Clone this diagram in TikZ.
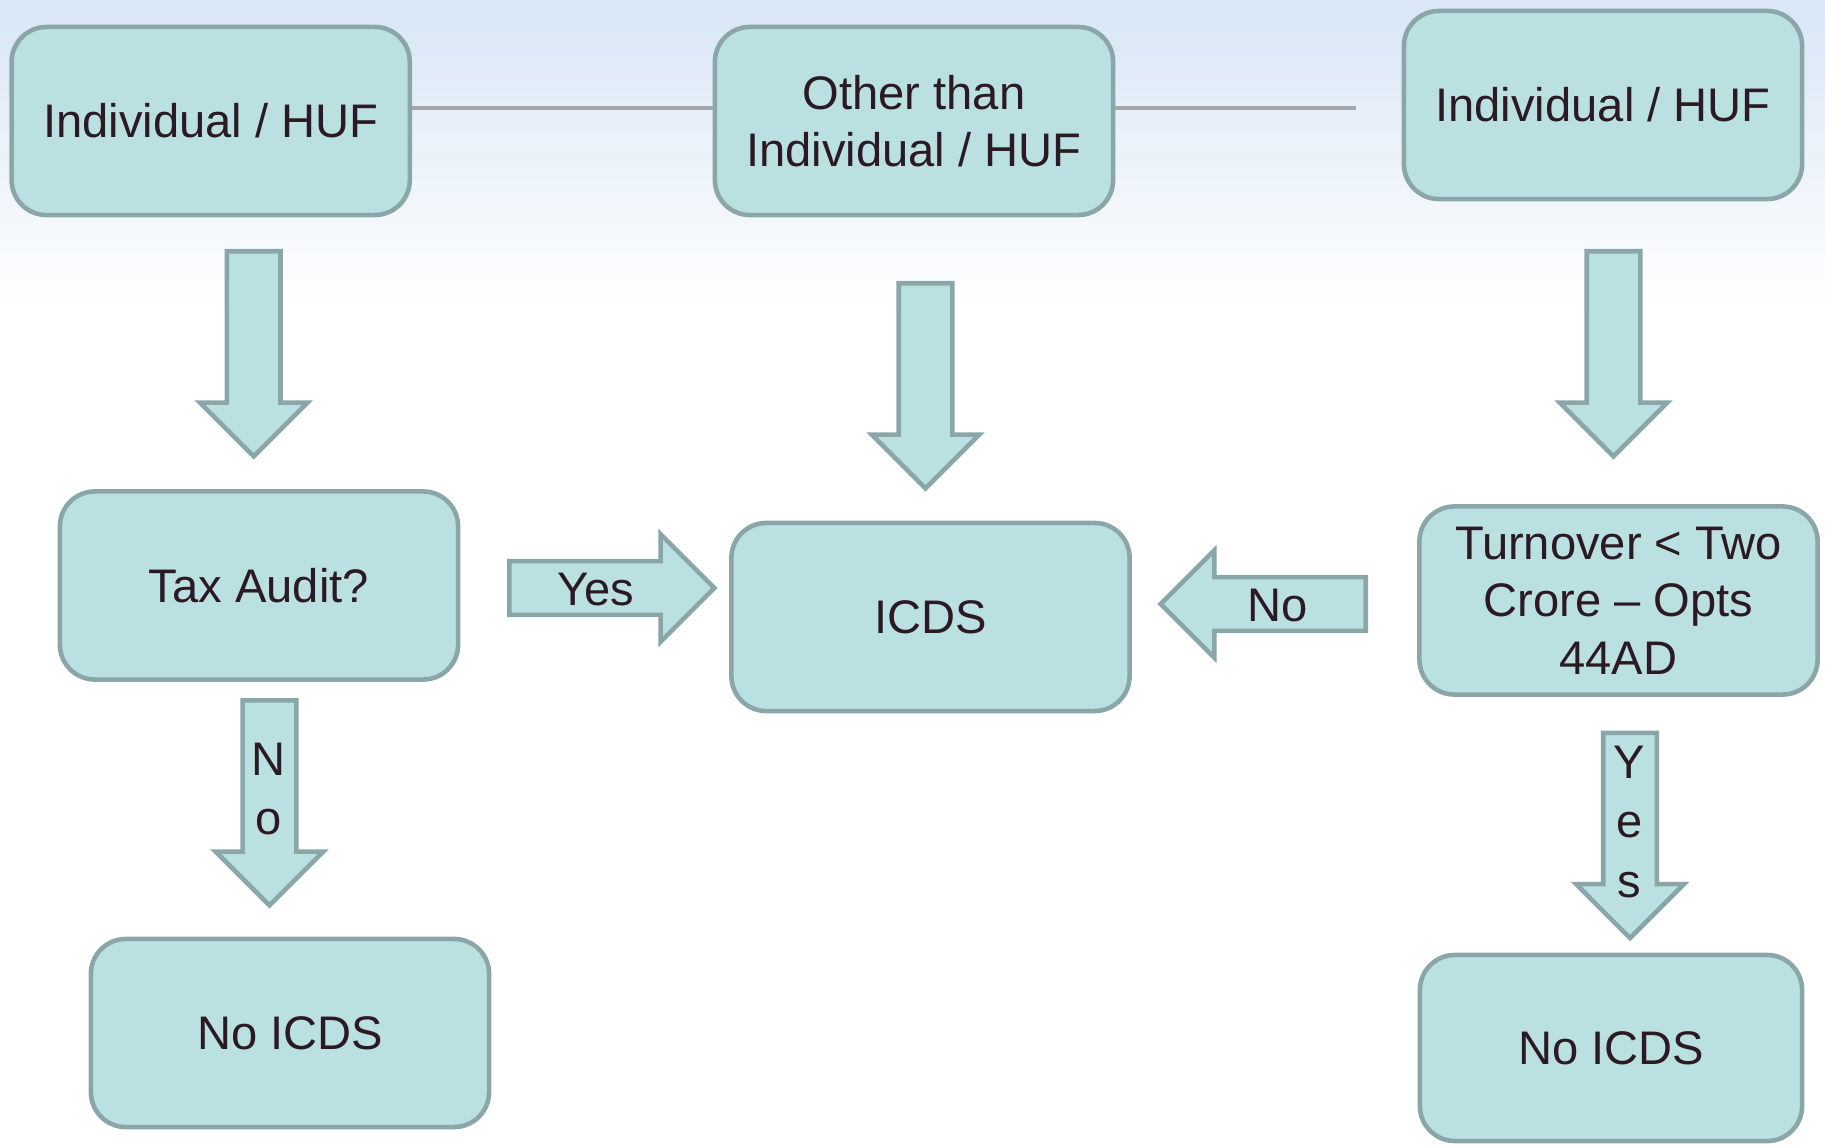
\documentclass[tikz,border=0pt]{standalone}
\usepackage{fontspec}
\setmainfont{Liberation Sans}
\usepackage{tikz}
\usetikzlibrary{calc,positioning,shapes.arrows}
\definecolor{boxfill}{HTML}{BBE0E2}
\definecolor{boxline}{HTML}{8AA6A8}
\definecolor{ink}{HTML}{2B1A24}
\definecolor{sky}{HTML}{D8E6F6}
\tikzset{
  box/.style={draw=boxline,fill=boxfill,line width=1.3pt,rounded corners=0.35cm,
    minimum width=3.98cm,minimum height=1.88cm,align=center,text=ink,
    font=\fontsize{13.4}{16.4}\selectfont,inner sep=2pt},
  barrow/.style={single arrow,draw=boxline,fill=boxfill,line width=1.3pt,
    minimum height=2.05cm,minimum width=1.03cm,single arrow head extend=0.27cm,
    inner sep=0.245cm,anchor=tail},
  lbl/.style={text=ink,align=center,font=\fontsize{13.4}{16.8}\selectfont,inner sep=0pt},
  hline/.style={gray!70,line width=1pt}
}
\begin{document}
\begin{tikzpicture}[x=0.01cm,y=-0.01cm]
  \useasboundingbox (0,0) rectangle (1825,1146);
  \shade[top color=sky,bottom color=white] (0,0) rectangle (1825,310);
  % top row
  \node[box] (indA) at (210.7,121) {Individual / HUF};
  \node[box] (otherB) at (914,121) {Other than\\Individual / HUF};
  \node[box] (indC) at (1603,105) {Individual / HUF};
  \coordinate (lnL) at (0,108);
  \coordinate (lnend) at (1356,108);
  \draw[hline] (indA.east |- lnL) -- (otherB.west |- lnL);
  \draw[hline] (otherB.east |- lnL) -- (lnend);
  % middle row
  \node[box] (audit) at (259,585.5) {Tax Audit?};
  \node[box] (icds) at (930.5,617) {ICDS};
  \node[box] (turnover) at (1618.5,600.5) {Turnover < Two\\Crore -- Opts\\44AD};
  % bottom row
  \node[box] (noicdsL) at (290,1033) {No ICDS};
  \node[box,minimum width=3.82cm,minimum height=1.86cm] (noicdsR) at (1611,1048) {No ICDS};
  % block arrows
  \node[barrow,shape border rotate=270] (arrA) at (253.7,249) {};
  \node[barrow,shape border rotate=270] (arrB) at (925.5,281) {};
  \node[barrow,shape border rotate=270] (arrC) at (1613.5,249) {};
  \node[barrow] (arrYes) at (507,588) {};
  \node[barrow,shape border rotate=180] (arrNo) at (1368,604) {};
  \node[barrow,shape border rotate=270] (arrNoDown) at (269.5,698) {};
  \node[barrow,shape border rotate=270] (arrYesDown) at (1630,730.6) {};
  \node[lbl] (yesL) at (596,590) {Yes};
  \node[lbl] (noL) at (1278,606) {No};
  \node[lbl] (noV) at (269,789) {N\\o};
  \node[lbl] (yesV) at (1629.5,822) {Y\\e\\s};
\end{tikzpicture}
\end{document}
